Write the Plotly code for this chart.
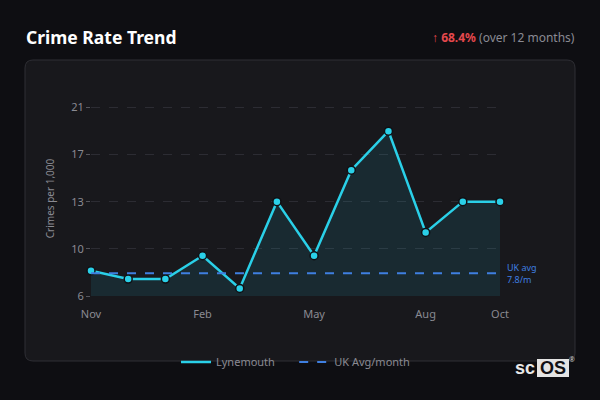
import plotly.graph_objects as go

months = ["Nov", "Dec", "Jan", "Feb", "Mar", "Apr", "May", "Jun", "Jul", "Aug", "Sep", "Oct"]
lynemouth = [8.0, 7.35, 7.35, 9.2, 6.6, 13.5, 9.2, 16.0, 19.1, 11.05, 13.5, 13.5]
uk_avg = 7.8
ytick_vals = [6, 9.75, 13.5, 17.25, 21]
ytick_text = ["6", "10", "13", "17", "21"]
xtick_labels = ["Nov", "Feb", "May", "Aug", "Oct"]

line_col = "#2ad0e8"
avg_col = "#3f7fe0"
grey = "#8a8a92"

x = list(range(len(months)))

fig = go.Figure()

#monthly rate, filled down to the axis
fig.add_trace(go.Scatter(
	x = x, y = lynemouth, name = "Lynemouth",
	mode = "lines+markers",
	line = dict(color=line_col, width=2.5),
	marker = dict(size=8, color=line_col, line=dict(color="#101014", width=1.5)),
	fill = "tozeroy", fillcolor = "rgba(42,208,232,0.10)",
	cliponaxis = False, showlegend = False,
))
#legend entry without the marker (trailing spaces widen the gap to the next item)
fig.add_trace(go.Scatter(
	x = [None], y = [None], name = "Lynemouth&nbsp;&nbsp;&nbsp;&nbsp;&nbsp;", mode = "lines",
	line = dict(color=line_col, width=2.5),
))

#uk average reference
fig.add_trace(go.Scatter(
	x = [x[0], x[-1]], y = [uk_avg, uk_avg], name = "UK Avg/month",
	mode = "lines",
	line = dict(color=avg_col, width=2, dash="dash"),
))

#card behind the chart (paper coords, plot area is x 91-500, y 101-296 px)
px = lambda p: (p-91)/409
py = lambda p: (296-p)/195
r = 8
x0, x1, y0, y1 = 25, 575, 361, 60
path = (
	f"M {px(x0+r)},{py(y1)} L {px(x1-r)},{py(y1)} Q {px(x1)},{py(y1)} {px(x1)},{py(y1+r)} "
	f"L {px(x1)},{py(y0-r)} Q {px(x1)},{py(y0)} {px(x1-r)},{py(y0)} "
	f"L {px(x0+r)},{py(y0)} Q {px(x0)},{py(y0)} {px(x0)},{py(y0-r)} "
	f"L {px(x0)},{py(y1+r)} Q {px(x0)},{py(y1)} {px(x0+r)},{py(y1)} Z"
)

layout = dict(
	width = 600, height = 400,
	paper_bgcolor = "#0e0e12",
	plot_bgcolor = "rgba(0,0,0,0)",
	font = dict(family="Noto Sans", color=grey, size=11),
	margin = dict(l=91, r=100, t=101, b=104),
	showlegend = True,
	legend = dict(orientation="h", x=0.5, xanchor="center", y=py(362), yanchor="middle",
		font=dict(size=11, color=grey), bgcolor="rgba(0,0,0,0)"),
	xaxis = dict(
		range = [0, 11],
		tickmode = "array",
		tickvals = [months.index(m) for m in xtick_labels],
		ticktext = xtick_labels,
		showgrid = False, zeroline = False, showline = False,
		ticks = "outside", ticklen = 8, tickcolor = "rgba(0,0,0,0)",
		tickfont = dict(size=11, color=grey),
	),
	yaxis = dict(
		range = [6, 21.5],
		tickmode = "array",
		tickvals = ytick_vals,
		ticktext = ytick_text,
		showgrid = True, gridcolor = "#2c2c33", griddash = "dash", gridwidth = 1,
		zeroline = False, showline = False,
		ticks = "outside", ticklen = 4, tickcolor = "#55555c",
		tickfont = dict(size=11, color=grey),
		title = dict(text="Crimes per 1,000", font=dict(size=10, color=grey), standoff=14),
	),
	shapes = [
		dict(type="path", path=path, xref="paper", yref="paper", layer="below",
			fillcolor="#18181c", line=dict(color="#2e2e34", width=1)),
		dict(type="rect", xref="paper", yref="paper", x0=px(537), x1=px(569), y0=py(377), y1=py(359),
			fillcolor="#e4e4e4", line=dict(width=0), layer="above"),
	],
	annotations = [
		dict(text="<b>Crime Rate Trend</b>", xref="paper", yref="paper", x=px(24), y=py(37),
			xanchor="left", yanchor="middle", showarrow=False, font=dict(size=17.5, color="#ffffff")),
		dict(text="<span style='color:#e5484d'>↑ <b>68.4%</b></span> (over 12 months)",
			xref="paper", yref="paper", x=px(577), y=py(37), xanchor="right", yanchor="middle",
			showarrow=False, font=dict(size=12, color=grey)),
		dict(text="UK avg<br>7.8/m", xref="paper", yref="y", x=px(505), y=uk_avg, xanchor="left",
			yanchor="middle", align="left", showarrow=False, font=dict(size=9, color=avg_col)),
		dict(text="<b>sc</b>", xref="paper", yref="paper", x=px(537), y=py(368), xanchor="right",
			yanchor="middle", showarrow=False, font=dict(family="Liberation Sans", size=18, color="#e8e8e8")),
		dict(text="<b>OS</b>", xref="paper", yref="paper", x=px(553), y=py(368), xanchor="center",
			yanchor="middle", showarrow=False, font=dict(family="Liberation Sans", size=18, color="#111114")),
		dict(text="®", xref="paper", yref="paper", x=px(572), y=py(359), xanchor="center",
			yanchor="middle", showarrow=False, font=dict(size=7, color="#cccccc")),
	],
)
fig.update_layout(layout)

#drop the default page margin so the figure sits at 0,0, and hide the modebar
fig.write_html("out.html", config={"displayModeBar": False},
	post_script="document.body.style.margin='0';document.body.style.background='#0e0e12';")
